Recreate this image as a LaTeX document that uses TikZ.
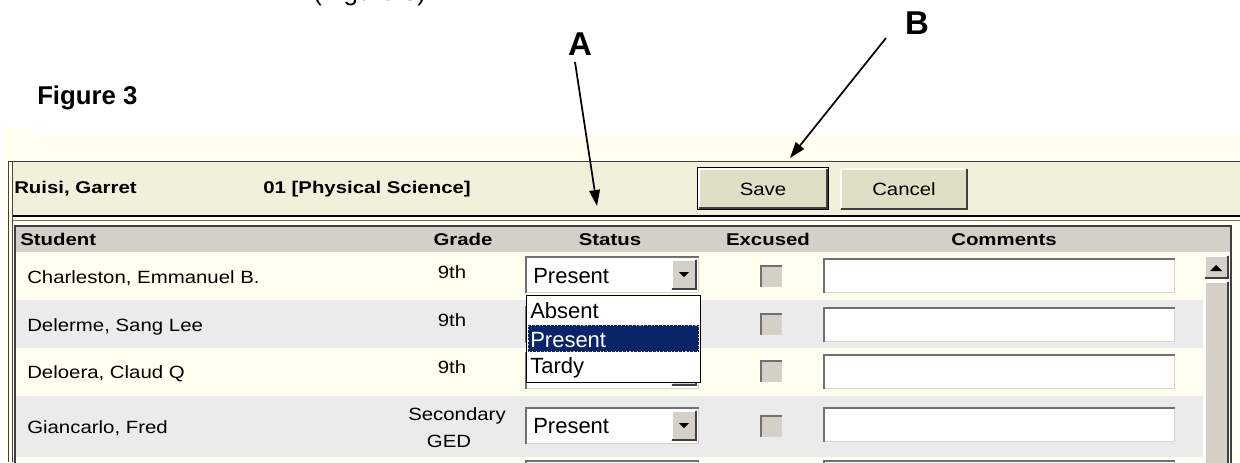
\documentclass[tikz,border=0pt]{standalone}
\usepackage{fontspec}
\setmainfont{Liberation Sans}
\newfontfamily\uifont[FakeStretch=1.15]{Liberation Sans}
\newfontfamily\uibfont[FakeStretch=1.2]{Liberation Sans Bold}
\usetikzlibrary{arrows.meta}
\definecolor{cream}{HTML}{FFFEF0}
\definecolor{hdrtan}{HTML}{F2EFDA}
\definecolor{colgray}{HTML}{D4D0C8}
\definecolor{rowgray}{HTML}{EBEBEB}
\definecolor{rowyel}{HTML}{FFFFF0}
\definecolor{btnkhaki}{HTML}{E0DEC4}
\definecolor{sdark}{HTML}{707070}
\definecolor{sdarker}{HTML}{404040}
\definecolor{slight}{HTML}{D8D4CC}
\definecolor{navy}{HTML}{0A246A}
\definecolor{dotyel}{HTML}{E8D080}
\newcommand\sunkbox[5]{%
  \fill[#5] (#1,#2) rectangle (#3,#4);
  \draw[line width=1.5pt,color=sdark] (#1+1,#4) -- (#1+1,#2+1) -- (#3,#2+1);
  \draw[line width=0.75pt,color=slight] (#3-0.5,#2+2) -- (#3-0.5,#4-0.5) -- (#1+2,#4-0.5);
}
\newcommand\upbox[5]{%
  \fill[#5] (#1,#2) rectangle (#3,#4);
  \draw[white, line width=1.5pt] (#1+1,#4-1) -- (#1+1,#2+1) -- (#3-1,#2+1);
  \draw[sdarker, line width=1.5pt] (#1+1,#4-1) -- (#3-1,#4-1) -- (#3-1,#2+1);
}
\newcommand\dropdown[3]{% x1 y1 text
  \sunkbox{#1}{#2}{#1+174}{#2+37}{white}
  \upbox{#1+146}{#2+3}{#1+172}{#2+34}{colgray}
  \fill[black] (#1+154,#2+16) -- (#1+164,#2+16) -- (#1+159,#2+21) -- cycle;
}
\tikzset{
  ptr/.style={line width=1.3pt, -{Triangle[length=12pt,width=8pt]}},
  uireg/.style={font=\uifont\fontsize{13.3pt}{15pt}\selectfont, inner sep=0pt},
  uibold/.style={font=\uibfont\fontsize{12.75pt}{15pt}\selectfont, inner sep=0pt},
  ddtext/.style={font=\fontsize{16.5pt}{18pt}\selectfont, inner sep=0pt},
  bigletter/.style={font=\bfseries\fontsize{24.75pt}{28pt}\selectfont, inner sep=0pt},
}
\begin{document}
\begin{tikzpicture}[x=0.75pt,y=-0.75pt]
\useasboundingbox (0,0) rectangle (1240,462);
\clip (0,0) rectangle (1240,462);
\fill[white] (0,0) rectangle (1240,462);
% clipped fragment of text line above
\node[anchor=base west, inner sep=0pt, font=\fontsize{19.5pt}{22pt}\selectfont] (frag) at (313,0.5) {(Figure 3)};
% Figure 3 caption
\node[anchor=base west, inner sep=0pt, font=\bfseries\fontsize{19.3pt}{22pt}\selectfont] (fig) at (37,104) {Figure 3};
% cream background
\fill[cream] (3,135) rectangle (1240,462);
\fill[cream] (3,128) rectangle (35,135);
% header band
\fill[hdrtan] (12,161) rectangle (1240,216);
\draw[sdarker, line width=0.75pt] (8,161.5) -- (1240,161.5);
\draw[black, line width=2pt] (12,216) -- (1240,216);
\draw[sdark, line width=0.75pt] (12,220.5) -- (1240,220.5);
\draw[sdarker, line width=1pt] (8.5,161) -- (8.5,462);
\draw[sdarker, line width=1pt] (12.5,161) -- (12.5,462);
% header texts
\node[uibold, anchor=base west] (teacher) at (14,193) {Ruisi, Garret};
\node[uibold, anchor=base west] (course) at (263,193) {01 [Physical Science]};
% buttons
\fill[black] (697,167) rectangle (829,210);
\upbox{698}{168}{828}{209}{btnkhaki}
\node[uireg, anchor=base] (save) at (763,195) {Save};
\upbox{840}{168}{968}{210}{btnkhaki}
\node[uireg, anchor=base] (cancel) at (904,195) {Cancel};
% table
\fill[colgray] (15,225) rectangle (1231,252);
\fill[rowyel] (16,252) rectangle (1203,300);
\fill[rowgray] (16,300) rectangle (1203,348);
\fill[rowyel] (16,348) rectangle (1203,396);
\fill[rowgray] (16,396) rectangle (1203,457);
\fill[rowyel] (16,457) rectangle (1203,462);
\draw[sdarker, line width=1.5pt] (15,463) -- (15,225.5) -- (1230.5,225.5) -- (1230.5,463);
% column headers
\node[uibold, anchor=base west] (hstudent) at (20,245) {Student};
\node[uibold, anchor=base] (hgrade) at (463,245) {Grade};
\node[uibold, anchor=base] (hstatus) at (610,245) {Status};
\node[uibold, anchor=base] (hexcused) at (768,245) {Excused};
\node[uibold, anchor=base] (hcomments) at (1004,245) {Comments};
% names
\node[uireg, anchor=base west] (n1) at (27,283) {Charleston, Emmanuel B.};
\node[uireg, anchor=base west] (n2) at (27,331) {Delerme, Sang Lee};
\node[uireg, anchor=base west] (n3) at (27,378) {Deloera, Claud Q};
\node[uireg, anchor=base west] (n4) at (27,433) {Giancarlo, Fred};
% grades
\node[uireg, anchor=base] (g1) at (452,278) {9th};
\node[uireg, anchor=base] (g2) at (452,326) {9th};
\node[uireg, anchor=base] (g3) at (452,373) {9th};
\node[uireg, anchor=base] (g4a) at (457,420) {Secondary};
\node[uireg, anchor=base] (g4b) at (449,447) {GED};
% checkboxes
\sunkbox{760}{265}{782}{287}{colgray}
\sunkbox{760}{313}{782}{335}{colgray}
\sunkbox{760}{360}{782}{382}{colgray}
\sunkbox{760}{415}{782}{437}{colgray}
% comment fields
\sunkbox{823}{258}{1175}{293}{white}
\sunkbox{823}{307}{1175}{342}{white}
\sunkbox{823}{354}{1175}{389}{white}
\sunkbox{823}{407}{1175}{442}{white}
\sunkbox{823}{460}{1175}{495}{white}
% status drop-downs
\dropdown{525}{256}{}
\node[ddtext, anchor=base west] (s1) at (533,283) {Present};
\dropdown{525}{306}{}
\dropdown{525}{352}{}
\dropdown{525}{407}{}
\node[ddtext, anchor=base west] (s4) at (533,433) {Present};
\dropdown{525}{460}{}
% open list
\fill[white] (526,295) rectangle (701,383);
\draw[black, line width=1.2pt] (526.5,295.5) rectangle (700.5,382.5);
\fill[navy] (528,325) rectangle (699,352);
\draw[dotyel, dotted, line width=0.8pt] (528.5,325.5) rectangle (698.5,351.5);
\node[ddtext, anchor=base west] (o1) at (530,318) {Absent};
\node[ddtext, anchor=base west, text=white] (o2) at (530,347) {Present};
\node[ddtext, anchor=base west] (o3) at (530,373) {Tardy};
% scrollbar
\upbox{1204}{255}{1229}{279}{colgray}
\fill[black] (1210,271) -- (1222,271) -- (1216,265) -- cycle;
\upbox{1204}{281}{1229}{470}{colgray}
% callouts
\node[bigletter] (labA) at (580,44) {A};
\node[bigletter] (labB) at (917,23) {B};
\coordinate (a0) at (575,62);
\coordinate (a1) at (597,206);
\coordinate (b0) at (886,38);
\coordinate (b1) at (790,158);
\draw[ptr] (a0) -- (a1);
\draw[ptr] (b0) -- (b1);
\end{tikzpicture}
\end{document}
